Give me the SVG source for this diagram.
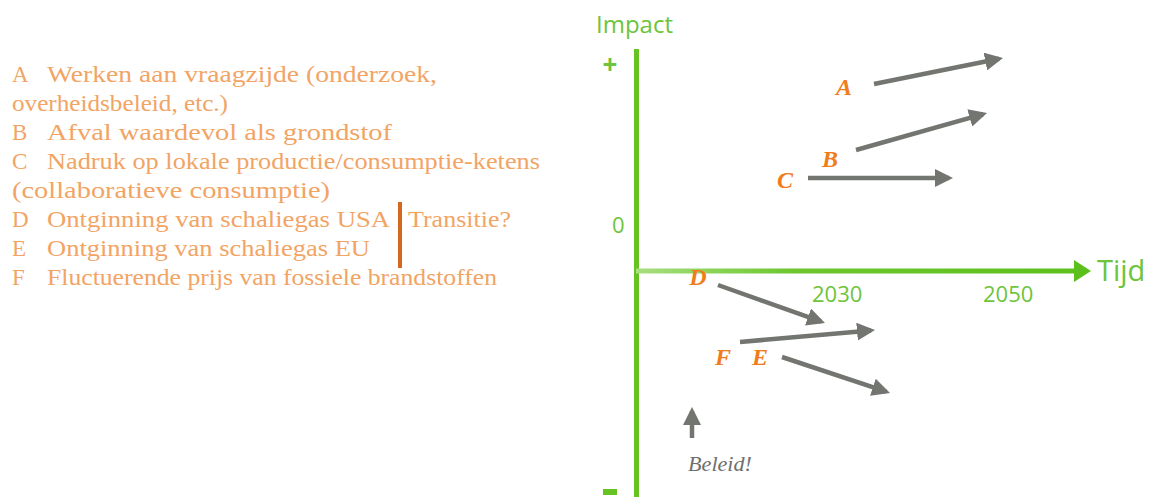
<svg xmlns="http://www.w3.org/2000/svg" width="1158" height="497" viewBox="0 0 1158 497">
  <style>
    .legend { font-family: "Liberation Serif", serif; font-size: 23px; fill: #f2a465; }
    .axis { font-family: "Open Sans", "Liberation Sans", sans-serif; fill: #6ec43a; }
    .lbl { font-family: "Liberation Serif", serif; font-style: italic; font-weight: bold; font-size: 24px; fill: #f07c1c; text-anchor: middle; }
    .arrow { stroke: #737570; stroke-width: 4.5; fill: none; marker-end: url(#ah); }
  </style>
  <defs>
    <marker id="ah" markerUnits="userSpaceOnUse" markerWidth="18" markerHeight="18" refX="14" refY="9" orient="auto">
      <path d="M0,0 L18,9 L0,18 z" fill="#737570"/>
    </marker>
    <linearGradient id="hg" x1="635" y1="0" x2="1090" y2="0" gradientUnits="userSpaceOnUse">
      <stop offset="0" stop-color="#a8df80"/>
      <stop offset="0.35" stop-color="#6cc62e"/>
      <stop offset="1" stop-color="#5cc01c"/>
    </linearGradient>
  </defs>

  <g id="legend">
    <text class="legend" x="12" y="82">A</text>
    <text class="legend" x="47" y="82" textLength="390" lengthAdjust="spacingAndGlyphs">Werken aan vraagzijde (onderzoek,</text>
    <text class="legend" x="12" y="111" textLength="216" lengthAdjust="spacingAndGlyphs">overheidsbeleid, etc.)</text>
    <text class="legend" x="12" y="140">B</text>
    <text class="legend" x="47" y="140" textLength="345" lengthAdjust="spacingAndGlyphs">Afval waardevol als grondstof</text>
    <text class="legend" x="12" y="169">C</text>
    <text class="legend" x="47" y="169" textLength="493" lengthAdjust="spacingAndGlyphs">Nadruk op lokale productie/consumptie-ketens</text>
    <text class="legend" x="12" y="198" textLength="318" lengthAdjust="spacingAndGlyphs">(collaboratieve consumptie)</text>
    <text class="legend" x="12" y="227">D</text>
    <text class="legend" x="47" y="227" textLength="343" lengthAdjust="spacingAndGlyphs">Ontginning van schaliegas USA</text>
    <text class="legend" x="408" y="227" textLength="103" lengthAdjust="spacingAndGlyphs">Transitie?</text>
    <text class="legend" x="12" y="256">E</text>
    <text class="legend" x="47" y="256" textLength="323" lengthAdjust="spacingAndGlyphs">Ontginning van schaliegas EU</text>
    <text class="legend" x="12" y="285">F</text>
    <text class="legend" x="47" y="285" textLength="450" lengthAdjust="spacingAndGlyphs">Fluctuerende prijs van fossiele brandstoffen</text>
    <rect x="398" y="202" width="4" height="66" fill="#d2691e"/>
  </g>

  <g id="axes">
    <rect x="634" y="49" width="5" height="448" fill="#66c322"/>
    <rect x="636" y="268.5" width="442" height="5" fill="url(#hg)"/>
    <path d="M1074,260 L1091,271 L1074,282 z" fill="#5cc01c"/>
    <text class="axis" x="596" y="33" font-size="24">Impact</text>
    <text class="axis" x="610" y="74" font-size="26" font-weight="bold" text-anchor="middle">+</text>
    <text class="axis" x="612" y="233" font-size="22">0</text>
    <rect x="603" y="489" width="14" height="6" fill="#66c322"/>
    <text class="axis" x="1097" y="281" font-size="29">Tijd</text>
    <text class="axis" x="812" y="302" font-size="22">2030</text>
    <text class="axis" x="983" y="302" font-size="22">2050</text>
  </g>

  <g id="labels">
    <text class="lbl" x="844" y="95">A</text>
    <text class="lbl" x="830" y="167">B</text>
    <text class="lbl" x="785" y="188">C</text>
    <text class="lbl" x="698" y="285">D</text>
    <text class="lbl" x="723" y="365">F</text>
    <text class="lbl" x="760" y="365">E</text>
    <text x="688" y="471" font-family="Liberation Serif, serif" font-style="italic" font-size="21" fill="#6f6f6f" textLength="64" lengthAdjust="spacingAndGlyphs">Beleid!</text>
  </g>

  <g id="connectors">
    <line class="arrow" x1="874" y1="84" x2="999.1" y2="58.8"/>
    <line class="arrow" x1="856" y1="150" x2="983.2" y2="114.1"/>
    <line class="arrow" x1="808" y1="178" x2="949" y2="178"/>
    <line class="arrow" x1="718" y1="285" x2="821.2" y2="321.7"/>
    <line class="arrow" x1="740" y1="342" x2="871" y2="330.4"/>
    <line class="arrow" x1="782" y1="357" x2="886.2" y2="391.7"/>
    <line class="arrow" x1="692" y1="438" x2="692" y2="411"/>
  </g>
</svg>
